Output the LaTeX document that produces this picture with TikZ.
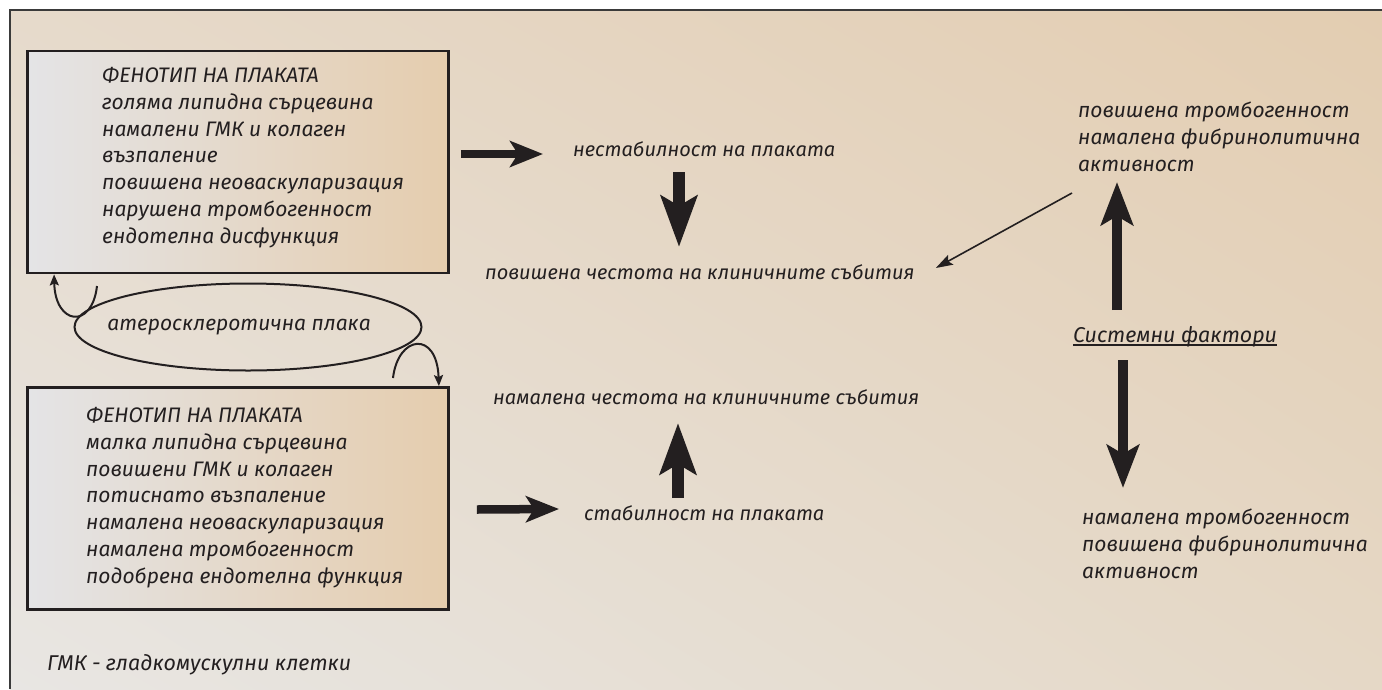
\documentclass[tikz,border=0pt]{standalone}
\usepackage{fontspec}
\setmainfont{Fira Sans}[Language=Bulgarian]
\usetikzlibrary{arrows.meta,shapes.geometric,shadings}
\definecolor{ink}{HTML}{231F20}
\definecolor{frame}{HTML}{3A3A3A}
\definecolor{bgUL}{HTML}{E6DACB}
\definecolor{bgUR}{HTML}{E3CDB1}
\definecolor{bgLL}{HTML}{E8E6E3}
\definecolor{bgLR}{HTML}{E5D8C6}
\definecolor{boxL}{HTML}{E4E4E6}
\definecolor{boxR}{HTML}{E5CDAE}
\begin{document}
\begin{tikzpicture}[x=1pt,y=-1pt,
  txt/.style={inner sep=0pt, anchor=base west, align=left, text=ink,
    font=\fontsize{20}{26.7}\selectfont\itshape},
  txtL/.style={txt, font=\fontsize{21}{26.7}\selectfont\itshape},
  txtXL/.style={txt, font=\fontsize{21.4}{26.7}\selectfont\itshape},
  phenobox/.style={draw=ink, line width=2.8pt, left color=boxL, right color=boxR,
    inner sep=0pt, minimum width=421pt, minimum height=222pt},
  hook/.style={draw=ink, line width=2pt, -{Stealth[length=11pt,width=9pt,inset=2pt]}},
  thinarr/.style={draw=ink, line width=1.6pt, -{Stealth[length=17pt,width=11pt,inset=3pt]}},
  fatH/.style={draw=ink, line width=8.5pt, -{Stealth[length=33pt,width=26pt,inset=8pt]}},
  fatV/.style={draw=ink, line width=12.5pt, -{Stealth[length=51pt,width=36pt,inset=10pt]}},
  fatS/.style={draw=ink, line width=10.5pt, -{Stealth[length=43pt,width=32pt,inset=9pt]}},
]
\useasboundingbox (0,0) rectangle (1382,689);
\fill[white] (0,0) rectangle (1382,689);
\shade[upper left=bgUL, upper right=bgUR, lower left=bgLL, lower right=bgLR]
  (10,10) rectangle (1382,689);
\draw[frame, line width=1.5pt] (10,689) -- (10,10) -- (1382,10);

% boxes (multi-line text nodes are anchored at the baseline of their last line)
\node[phenobox] (box1) at (238,162) {};
\node[phenobox] (box2) at (238,498.5) {};
\node[txtL] (tx1) at (102,243) {ФЕНОТИП НА ПЛАКАТА\\голяма липидна сърцевина\\намалени ГМК и колаген\\възпаление\\повишена неоваскуларизация\\нарушена тромбогенност\\ендотелна дисфункция};
\node[txtL] (tx2) at (86,583) {ФЕНОТИП НА ПЛАКАТА\\малка липидна сърцевина\\повишени ГМК и колаген\\потиснато възпаление\\намалена неоваскуларизация\\намалена тромбогенност\\подобрена ендотелна функция};

% ellipse
\node[ellipse, draw=ink, line width=2pt, minimum width=342pt, minimum height=87pt,
  inner sep=0pt, text=ink, font=\fontsize{21}{24}\selectfont\itshape] (plaque) at (248,327) {\hspace{-18pt}атеросклеротична плака};
\coordinate (hookA) at (97,286);
\coordinate (hookB) at (393,378);
\draw[hook] (hookA) .. controls (92,330) and (55,325) .. ([xshift=28pt]box1.south west);
\draw[hook] (hookB) .. controls (398,335) and (437,330) .. ([xshift=-11pt]box2.north east);

% middle texts
\node[txt] (nest) at (573,156) {нестабилност на плаката};
\node[txt] (inc) at (485,279) {повишена честота на клиничните събития};
\node[txt] (dec) at (493,404) {намалена честота на клиничните събития};
\node[txt] (stab) at (584,520) {стабилност на плаката};

% right texts
\node[txtL] (tr) at (1078,171) {повишена тромбогенност\\намалена фибринолитична\\активност};
\node[txtXL] (sys) at (1073,342) {Системни фактори};
\draw[ink, line width=1.4pt] ([yshift=-3pt]sys.base west) -- ([yshift=-3pt]sys.base east);
\node[txtL] (br) at (1082,578) {намалена тромбогенност\\повишена фибринолитична\\активност};

% arrows
\draw[fatH] ([shift={(11pt,8pt)}]box1.east) -- ([shift={(-30pt,2pt)}]nest.base west);
\draw[fatV] ([shift={(106pt,-16pt)}]nest.base west) -- ([shift={(194pt,32pt)}]inc.base west);
\draw[fatV] ([shift={(94pt,22pt)}]stab.base west) -- ([shift={(185pt,-19pt)}]dec.base west);
\draw[fatH] ([shift={(27pt,-11pt)}]box2.east) -- ([shift={(-25pt,11pt)}]stab.base west);
\draw[fatS] ([shift={(44pt,32pt)}]sys.base west) -- ([shift={(39pt,-11pt)}]tr.base west);
\draw[fatS] ([shift={(50pt,-18pt)}]sys.base west) -- ([shift={(41pt,90pt)}]br.base west);
\draw[thinarr] ([shift={(-6pt,-22pt)}]tr.base west) -- ([shift={(21pt,11pt)}]inc.base east);

% footnote
\node[txtXL] (note) at (47,670) {ГМК - гладкомускулни клетки};
\end{tikzpicture}
\end{document}
